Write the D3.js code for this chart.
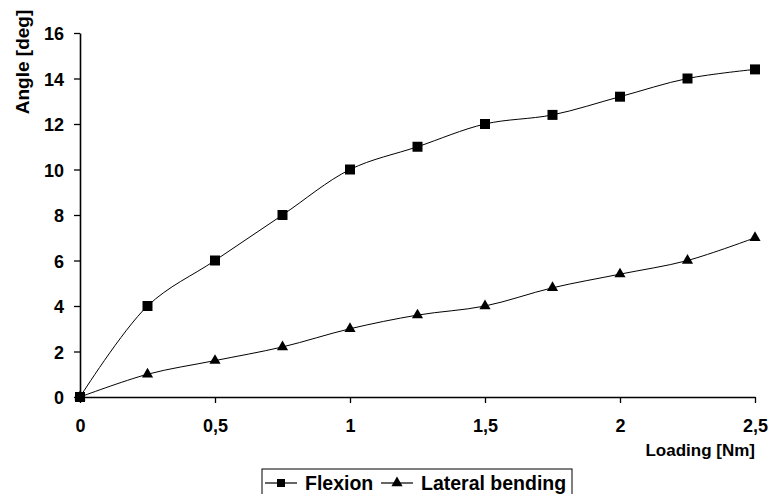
<!DOCTYPE html>
<html>
<head>
<meta charset="utf-8">
<script src="https://cdn.jsdelivr.net/npm/d3@7"></script>
<style>
  body { margin: 0; background: #fff; }
  text { font-family: "Liberation Sans", Arial, sans-serif; font-weight: bold; fill: #000; }
</style>
</head>
<body>
<div id="chart"></div>
<script>
var width = 771;
var height = 494;

// values
var loading = [0, 0.25, 0.5, 0.75, 1, 1.25, 1.5, 1.75, 2, 2.25, 2.5];
var flexion = [0, 4, 6, 8, 10, 11, 12, 12.4, 13.2, 14, 14.4];
var lateral = [0, 1, 1.6, 2.2, 3, 3.6, 4, 4.8, 5.4, 6, 7];
var xTicks = [0, 0.5, 1, 1.5, 2, 2.5];
var xTickLabels = ['0', '0,5', '1', '1,5', '2', '2,5'];
var yTicks = [0, 2, 4, 6, 8, 10, 12, 14, 16];
var seriesNames = ['Flexion', 'Lateral bending'];

var margin = { top: 33, right: 16, bottom: 97, left: 80 };
var chartWidth = width - margin.left - margin.right;
var chartHeight = height - margin.top - margin.bottom;

var svg = d3.select('#chart').append('svg')
    .attr('width', width)
    .attr('height', height);

var g = svg.append('g')
    .attr('transform', `translate(${margin.left}, ${margin.top})`);

var xScale = d3.scaleLinear().domain([0, 2.5]).range([0, chartWidth]);
var yScale = d3.scaleLinear().domain([0, 16]).range([chartHeight, 0]);

// axes
var xAxis = d3.axisBottom(xScale)
    .tickValues(xTicks)
    .tickFormat((d, i) => xTickLabels[i])
    .tickSizeInner(6)
    .tickSizeOuter(0)
    .tickPadding(0);
var yAxis = d3.axisLeft(yScale)
    .tickValues(yTicks)
    .tickSizeInner(6)
    .tickSizeOuter(0)
    .tickPadding(0);

var xAxis_g = g.append('g')
    .attr('transform', `translate(0, ${chartHeight})`)
    .call(xAxis);
var yAxis_g = g.append('g').call(yAxis);

[xAxis_g, yAxis_g].forEach(function (ax) {
    ax.select('.domain').attr('stroke', '#000').attr('stroke-width', 1.6);
    ax.selectAll('.tick line').attr('stroke', '#000').attr('stroke-width', 1.3);
    ax.selectAll('.tick text').remove();
});

// tick labels
xAxis_g.selectAll('.tick').append('text')
    .attr('x', 0)
    .attr('y', 35)
    .attr('text-anchor', 'middle')
    .style('font-size', '18px')
    .text((d, i) => xTickLabels[i]);

yAxis_g.selectAll('.tick').append('text')
    .attr('x', -16)
    .attr('y', 6.5)
    .attr('text-anchor', 'end')
    .style('font-size', '18px')
    .text(d => d);

// axis titles
svg.append('text')
    .attr('x', margin.left + chartWidth)
    .attr('y', 456)
    .attr('text-anchor', 'end')
    .style('font-size', '17px')
    .text('Loading [Nm]');

svg.append('text')
    .attr('transform', 'translate(29, 62) rotate(-90)')
    .attr('text-anchor', 'middle')
    .style('font-size', '19px')
    .text('Angle [deg]');

// lines
var line = d3.line()
    .x(d => xScale(d[0]))
    .y(d => yScale(d[1]))
    .curve(d3.curveCatmullRom.alpha(0.5));

var flexData = loading.map((x, i) => [x, flexion[i]]);
var latData = loading.map((x, i) => [x, lateral[i]]);

var squareSym = d3.symbol().type(d3.symbolSquare).size(100);
var triSym = d3.symbol().type(d3.symbolTriangle).size(54);

g.append('path').datum(latData)
    .attr('d', line)
    .attr('fill', 'none')
    .attr('stroke', '#000')
    .attr('stroke-width', 1);

g.selectAll('.tri')
    .data(latData)
    .enter()
    .append('path')
    .attr('class', 'tri')
    .attr('d', triSym)
    .attr('transform', d => `translate(${xScale(d[0])}, ${yScale(d[1])})`)
    .attr('fill', '#000');

g.append('path').datum(flexData)
    .attr('d', line)
    .attr('fill', 'none')
    .attr('stroke', '#000')
    .attr('stroke-width', 1);

g.selectAll('.sq')
    .data(flexData)
    .enter()
    .append('path')
    .attr('class', 'sq')
    .attr('d', squareSym)
    .attr('transform', d => `translate(${xScale(d[0])}, ${yScale(d[1])})`)
    .attr('fill', '#000');

// legend
var legend = svg.append('g').attr('transform', 'translate(262, 469)');
legend.append('rect')
    .attr('width', 310)
    .attr('height', 32)
    .attr('fill', '#fff')
    .attr('stroke', '#000')
    .attr('stroke-width', 1);

var legendItems = [
    { name: seriesNames[0], x: 3, sym: d3.symbol().type(d3.symbolSquare).size(64) },
    { name: seriesNames[1], x: 119, sym: d3.symbol().type(d3.symbolTriangle).size(54) }
];

legendItems.forEach(function (item) {
    var lg = legend.append('g').attr('transform', `translate(${item.x}, 14)`);
    lg.append('line')
        .attr('x1', 0).attr('x2', 32)
        .attr('stroke', '#000')
        .attr('stroke-width', 1.2);
    lg.append('path')
        .attr('d', item.sym)
        .attr('transform', 'translate(16, 0)')
        .attr('fill', '#000');
    lg.append('text')
        .attr('x', 40)
        .attr('y', 6.5)
        .style('font-size', '19.5px')
        .text(item.name);
});
</script>
</body>
</html>
